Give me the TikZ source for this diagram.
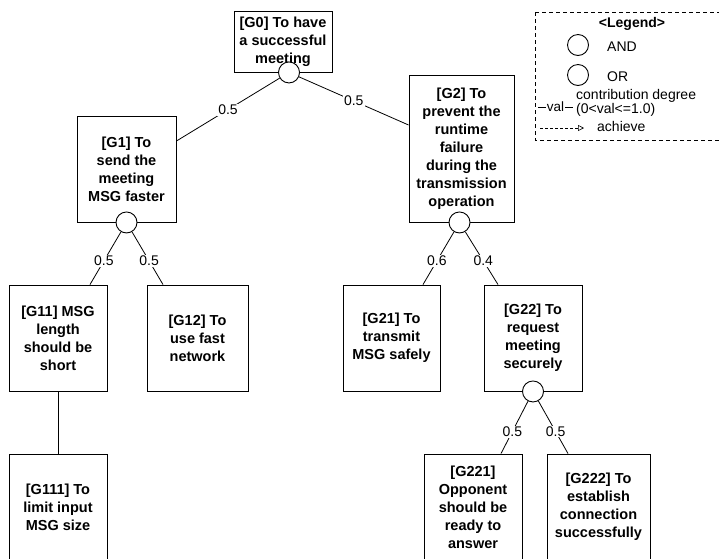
\documentclass[tikz,border=0pt]{standalone}
\usepackage{fontspec}
\setmainfont{Liberation Sans}
\usetikzlibrary{arrows.meta}

\begin{document}
\begin{tikzpicture}[x=1pt,y=-1pt,
  goal/.style={draw, line width=0.9pt, inner sep=0pt, align=center,
    font=\bfseries\fontsize{14.5}{18}\selectfont},
  gate/.style={circle, draw, fill=white, line width=0.9pt, minimum size=21pt, inner sep=0pt},
  link/.style={line width=0.8pt},
  deg/.style={fill=white, inner sep=1pt, font=\fontsize{14}{14}\selectfont},
  legtext/.style={inner sep=0pt, font=\fontsize{14}{12.5}\selectfont},
]
\useasboundingbox (0,0) rectangle (719,558);

% goal boxes
\node[goal, minimum width=98pt, minimum height=61pt] (g0) at (283,41.5)
  {[G0] To have\\a successful\\meeting};
\node[goal, minimum width=99pt, minimum height=106pt] (g1) at (126.5,169)
  {[G1] To\\send the\\meeting\\MSG faster};
\node[goal, minimum width=105pt, minimum height=147pt] (g2) at (461.5,148.5)
  {[G2] To\\prevent the\\runtime\\failure\\during the\\transmission\\operation};
\node[goal, minimum width=98pt, minimum height=106pt] (g11) at (58,338)
  {[G11] MSG\\length\\should be\\short};
\node[goal, minimum width=101pt, minimum height=106pt] (g12) at (197.5,338)
  {[G12] To\\use fast\\network};
\node[goal, minimum width=97pt, minimum height=106pt] (g21) at (391.5,338)
  {[G21] To\\transmit\\MSG safely};
\node[goal, minimum width=98pt, minimum height=106pt] (g22) at (533,338)
  {[G22] To\\request\\meeting\\securely};
\node[goal, minimum width=98pt, minimum height=106pt] (g111) at (58,507)
  {[G111] To\\limit input\\MSG size};
\node[goal, minimum width=98pt, minimum height=106pt] (g221) at (473,507)
  {[G221]\\Opponent\\should be\\ready to\\answer};
\node[goal, minimum width=103pt, minimum height=106pt] (g222) at (598.5,507)
  {[G222] To\\establish\\connection\\successfully};

% decomposition gates
\node[gate] (a0) at ([xshift=6pt]g0.south) {};
\node[gate] (a1) at (g1.south) {};
\node[gate] (a2) at ([xshift=-2pt]g2.south) {};
\node[gate] (a22) at (g22.south) {};

% contribution links
\draw[link] (a0) -- node[deg] {0.5} ([yshift=28pt]g1.east);
\draw[link] (a0) -- node[deg] {0.5} ([yshift=23.5pt]g2.west);
\draw[link] (a1) -- node[deg, pos=0.55] {0.5} ([xshift=32pt]g11.north);
\draw[link] (a1) -- node[deg, pos=0.55] {0.5} ([xshift=-34.5pt]g12.north);
\draw[link] (a2) -- node[deg, pos=0.55] {0.6} ([xshift=31.5pt]g21.north);
\draw[link] (a2) -- node[deg, pos=0.55] {0.4} ([xshift=-35pt]g22.north);
\draw[link] (a22) -- node[deg, pos=0.58] {0.5} ([xshift=28pt]g221.north);
\draw[link] (a22) -- node[deg, pos=0.58] {0.5} ([xshift=-30.5pt]g222.north);
\draw[link] (g11.south) -- (g111.north);

% legend
\draw[line width=0.8pt, dash pattern=on 4pt off 3pt] (535,12) -- (722,12);
\draw[line width=0.8pt, dash pattern=on 4pt off 3pt] (535,12) -- (535,140) -- (722,140);
\node[legtext, font=\bfseries\fontsize{14}{12.5}\selectfont] (lt) at (632,24) {<Legend>};
\node[gate] (land) at (578,45) {};
\node[legtext, anchor=west] (ltand) at (607,47) {AND};
\node[gate] (lor) at (578,75) {};
\node[legtext, anchor=west] (ltor) at (607,77) {OR};
\coordinate (vl) at (538,107);
\coordinate (vr) at (573,107);
\draw[line width=0.7pt] (vl) -- node[fill=white, inner sep=0.5pt, font=\fontsize{13.5}{12}\selectfont] {val} (vr);
\node[legtext, anchor=west, align=left] (ltdeg) at (576,103)
  {contribution degree\\(0<val<=1.0)};
\coordinate (al) at (540,128);
\coordinate (ar) at (584,128);
\draw[line width=0.6pt, densely dashed, -{Triangle[open, length=6pt, width=6pt]}] (al) -- (ar);
\node[legtext, anchor=west] (ltach) at (597,126) {achieve};
\end{tikzpicture}
\end{document}
